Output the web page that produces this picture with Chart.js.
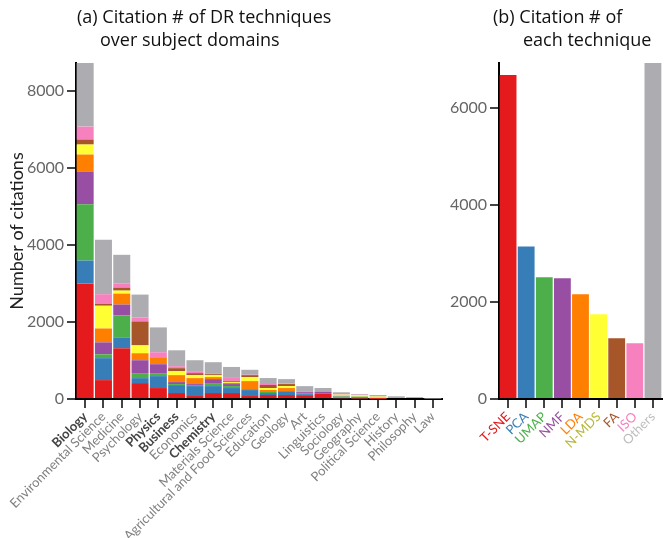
<!DOCTYPE html>
<html>
<head>
<meta charset="utf-8">
<script src="https://cdn.jsdelivr.net/npm/chart.js@4.4.1/dist/chart.umd.min.js"></script>
<style>
    body { margin: 0; background: #fff; font-family: Lato, sans-serif; }
    #wrap { position: relative; width: 665px; height: 538px; }
    canvas { position: absolute; top: 0; }
    #domainChart { left: 0; }
    #techChart { left: 440px; }
    .title { position: absolute; font-family: 'Open Sans', sans-serif; font-size: 18px; line-height: 23px; color: #111; white-space: nowrap; }
    .title span { display: block; }
</style>
</head>
<body>
<div id="wrap">
    <canvas id="domainChart" width="460" height="538"></canvas>
    <canvas id="techChart" width="225" height="538"></canvas>
    <div class="title" style="left:77px; top:5px;">
        <span>(a) Citation # of DR techniques</span>
        <span style="padding-left:23px;">over subject domains</span>
    </div>
    <div class="title" style="left:493px; top:5px;">
        <span>(b) Citation # of</span>
        <span style="padding-left:30px;">each technique</span>
    </div>
</div>
<script>
// subject domains (left panel)
const domains = ['Biology', 'Environmental Science', 'Medicine', 'Psychology', 'Physics', 'Business',
    'Economics', 'Chemistry', 'Materials Science', 'Agricultural and Food Sciences', 'Education',
    'Geology', 'Art', 'Linguistics', 'Sociology', 'Geography', 'Political Science', 'History',
    'Philosophy', 'Law'];
const boldDomains = ['Biology', 'Physics', 'Business', 'Chemistry'];

// citations per technique in each domain
const tsne   = [2994, 490, 1316, 413, 284, 155, 77, 155, 155, 77, 103, 103, 100, 130, 20, 13, 3, 0, 0, 0];
const pca    = [600, 570, 284, 129, 310, 206, 258, 180, 129, 155, 52, 78, 26, 0, 20, 10, 0, 0, 0, 0];
const umap   = [1460, 100, 568, 129, 77, 26, 26, 78, 52, 26, 26, 26, 26, 26, 26, 40, 30, 0, 0, 0];
const nmf    = [850, 310, 284, 335, 232, 52, 26, 103, 52, 0, 0, 0, 26, 26, 10, 0, 0, 0, 0, 0];
const lda    = [440, 360, 283, 181, 181, 180, 155, 52, 30, 206, 52, 77, 0, 0, 10, 0, 0, 0, 0, 0];
const nmds   = [260, 590, 78, 206, 0, 103, 77, 51, 26, 103, 52, 52, 0, 0, 26, 40, 30, 0, 0, 0];
const fa     = [130, 50, 77, 620, 0, 78, 52, 26, 26, 52, 78, 52, 0, 0, 0, 0, 0, 0, 0, 0];
const iso    = [335, 250, 104, 103, 129, 51, 51, 26, 78, 10, 26, 10, 26, 26, 10, 10, 0, 0, 0, 0];
const others = [1700, 1410, 748, 594, 645, 413, 284, 284, 284, 129, 155, 118, 130, 78, 52, 16, 40, 70, 50, 10];

// totals per technique (right panel)
const techniques = ['T-SNE', 'PCA', 'UMAP', 'NMF', 'LDA', 'N-MDS', 'FA', 'ISO', 'Others'];
const techTotals = [6680, 3145, 2510, 2490, 2160, 1750, 1255, 1150, 6930];

const techColors = ['#e41a1c', '#377eb8', '#4daf4a', '#984ea3', '#ff7f00', '#ffff33', '#a65628', '#f781bf', '#adacb1'];
const techLabelColors = ['#e41a1c', '#377eb8', '#4daf4a', '#984ea3', '#ff7f00', '#b8b83a', '#a65628', '#f781bf', '#bdbdbd'];

const leftMax = 8720;
const rightMax = 6930;
const yTicks = [0, 2000, 4000, 6000, 8000];

Chart.defaults.font.family = 'Lato, sans-serif';
Chart.defaults.animation = false;

function axisGrid() {
    return { display: true, drawOnChartArea: false, offset: false, tickLength: 9, lineWidth: 2, color: '#444' };
}

document.addEventListener('DOMContentLoaded', () => {
    const series = [tsne, pca, umap, nmf, lda, nmds, fa, iso, others];

    new Chart(document.getElementById('domainChart'), {
        type: 'bar',
        data: {
            labels: domains,
            datasets: series.map((values, i) => ({
                label: techniques[i],
                data: values,
                backgroundColor: techColors[i],
                borderWidth: 0,
                barPercentage: 0.93,
                categoryPercentage: 1.0
            }))
        },
        options: {
            responsive: false,
            layout: { padding: { top: 63, right: 18, left: 0, bottom: 0 } },
            plugins: { legend: { display: false }, tooltip: { enabled: false } },
            scales: {
                x: {
                    stacked: true,
                    grid: axisGrid(),
                    border: { color: '#000', width: 2 },
                    ticks: {
                        autoSkip: false,
                        minRotation: 45,
                        maxRotation: 45,
                        padding: 1,
                        font: c => ({ size: 13, weight: boldDomains.includes(domains[c.index]) ? 'bold' : 'normal' }),
                        color: c => boldDomains.includes(domains[c.index]) ? '#444' : '#808080'
                    },
                    afterFit: s => { s.height = 139; }
                },
                y: {
                    stacked: true,
                    min: 0,
                    max: leftMax,
                    grid: axisGrid(),
                    border: { color: '#000', width: 2 },
                    afterBuildTicks: s => { s.ticks = yTicks.map(v => ({ value: v })); },
                    ticks: { font: { size: 16 }, color: '#666', padding: 3, callback: v => String(v) },
                    title: { display: true, text: 'Number of citations', font: { size: 18 }, color: '#222', padding: { top: 6, bottom: 0 } },
                    afterFit: s => { s.width = 76; }
                }
            }
        }
    });

    new Chart(document.getElementById('techChart'), {
        type: 'bar',
        data: {
            labels: techniques,
            datasets: [{
                data: techTotals,
                backgroundColor: techColors,
                borderWidth: 0,
                barPercentage: 0.93,
                categoryPercentage: 1.0
            }]
        },
        options: {
            responsive: false,
            layout: { padding: { top: 63, right: 1, left: 0, bottom: 0 } },
            plugins: { legend: { display: false }, tooltip: { enabled: false } },
            scales: {
                x: {
                    grid: axisGrid(),
                    border: { color: '#000', width: 2 },
                    ticks: {
                        autoSkip: false,
                        minRotation: 45,
                        maxRotation: 45,
                        padding: 1,
                        font: { size: 13 },
                        color: c => techLabelColors[c.index]
                    },
                    afterFit: s => { s.height = 139; }
                },
                y: {
                    min: 0,
                    max: rightMax,
                    grid: axisGrid(),
                    border: { color: '#000', width: 2 },
                    afterBuildTicks: s => { s.ticks = yTicks.slice(0, 4).map(v => ({ value: v })); },
                    ticks: { font: { size: 16 }, color: '#666', padding: 3, callback: v => String(v) },
                    afterFit: s => { s.width = 59; }
                }
            }
        }
    });
});
</script>
</body>
</html>
